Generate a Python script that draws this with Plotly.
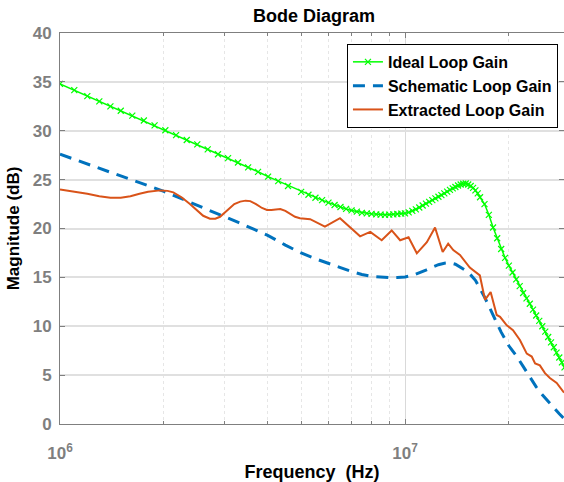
import plotly.graph_objects as go

# ---------------- data ----------------
ideal_f = [1.00e6, 1.10e6, 1.20e6, 1.30e6, 1.40e6, 1.50e6, 1.62e6, 1.75e6, 1.88e6, 2.02e6,
           2.17e6, 2.33e6, 2.50e6, 2.68e6, 2.87e6, 3.07e6, 3.28e6, 3.51e6, 3.75e6, 4.01e6,
           4.29e6, 4.58e6, 5.00e6, 5.25e6, 5.50e6, 5.75e6, 6.00e6, 6.25e6, 6.50e6, 6.75e6,
           7.00e6, 7.25e6, 7.50e6, 7.75e6, 8.00e6, 8.25e6, 8.50e6, 8.75e6, 9.00e6, 9.25e6,
           9.50e6, 9.75e6, 1.00e7, 1.025e7, 1.05e7, 1.075e7, 1.10e7, 1.125e7, 1.15e7, 1.175e7,
           1.20e7, 1.225e7, 1.25e7, 1.275e7, 1.30e7, 1.325e7, 1.35e7, 1.375e7, 1.40e7, 1.425e7,
           1.45e7, 1.475e7, 1.50e7, 1.525e7, 1.55e7, 1.575e7, 1.60e7, 1.625e7, 1.65e7, 1.70e7,
           1.75e7, 1.80e7, 1.85e7, 1.90e7, 1.95e7, 2.00e7, 2.05e7, 2.10e7, 2.15e7, 2.20e7,
           2.25e7, 2.30e7, 2.35e7, 2.40e7, 2.45e7, 2.50e7, 2.55e7, 2.60e7, 2.65e7, 2.70e7,
           2.75e7, 2.80e7, 2.85e7, 2.90e7, 3.00e7]
ideal_db = [34.8, 34.15, 33.55, 33.0, 32.5, 32.05, 31.55, 31.05, 30.55, 30.05,
            29.55, 29.05, 28.6, 28.1, 27.6, 27.2, 26.75, 26.25, 25.8, 25.3,
            24.85, 24.35, 23.75, 23.45, 23.15, 22.9, 22.65, 22.4, 22.2, 22.0,
            21.85, 21.72, 21.6, 21.55, 21.5, 21.45, 21.42, 21.4, 21.42, 21.45,
            21.48, 21.52, 21.55, 21.65, 21.8, 21.95, 22.15, 22.35, 22.55, 22.72,
            22.9, 23.08, 23.25, 23.42, 23.6, 23.78, 23.95, 24.1, 24.25, 24.4,
            24.5, 24.58, 24.6, 24.5, 24.35, 24.15, 23.9, 23.6, 23.2, 22.5,
            21.4, 20.1, 19.0, 17.9, 17.0, 16.2, 15.5, 14.8, 14.1, 13.4,
            12.85, 12.3, 11.7, 11.1, 10.55, 10.0, 9.45, 8.9, 8.35, 7.85,
            7.3, 6.8, 6.3, 5.8, 4.8]

schem_f = [1.0e6, 1.2e6, 1.4e6, 1.6e6, 1.8e6, 2.0e6, 2.25e6, 2.5e6, 2.75e6, 3.0e6,
           3.3e6, 3.6e6, 4.0e6, 4.5e6, 5.0e6, 5.5e6, 6.0e6, 6.5e6, 7.0e6, 7.5e6,
           8.0e6, 8.5e6, 9.0e6, 9.5e6, 1.0e7, 1.05e7, 1.1e7, 1.15e7, 1.2e7, 1.25e7,
           1.3e7, 1.35e7, 1.4e7, 1.45e7, 1.5e7, 1.55e7, 1.6e7, 1.7e7, 1.8e7, 1.9e7,
           2.0e7, 2.1e7, 2.2e7, 2.3e7, 2.4e7, 2.5e7, 2.6e7, 2.7e7, 2.8e7, 2.9e7, 3.0e7]
schem_db = [27.6, 26.6, 25.7, 25.0, 24.35, 23.8, 23.05, 22.35, 21.75, 21.2,
            20.6, 20.0, 19.3, 18.3, 17.5, 16.9, 16.4, 16.0, 15.6, 15.3,
            15.1, 15.0, 14.97, 14.98, 15.05, 15.2, 15.45, 15.75, 16.05, 16.3,
            16.45, 16.5, 16.35, 16.05, 15.7, 15.25, 14.7, 13.0, 11.2, 9.4,
            8.0, 7.0, 5.9, 4.8, 3.8, 3.0, 2.3, 1.6, 1.05, 0.5, 0.0]

extr_f = [1.0e6, 1.1e6, 1.2e6, 1.3e6, 1.4e6, 1.5e6, 1.6e6, 1.7e6, 1.8e6, 1.95e6,
          2.05e6, 2.13e6, 2.25e6, 2.38e6, 2.5e6, 2.6e6, 2.72e6, 2.82e6, 2.91e6, 3.0e6,
          3.1e6, 3.2e6, 3.33e6, 3.45e6, 3.56e6, 3.7e6, 3.85e6, 3.98e6, 4.1e6, 4.2e6,
          4.35e6, 4.5e6, 4.64e6, 4.8e6, 4.96e6, 5.31e6, 5.86e6, 6.48e6, 7.41e6,
          7.93e6, 8.56e6, 9.15e6, 9.68e6, 1.024e7, 1.082e7, 1.157e7, 1.222e7, 1.286e7, 1.334e7,
          1.38e7, 1.443e7, 1.541e7, 1.648e7, 1.706e7, 1.771e7, 1.844e7, 1.886e7, 1.972e7, 2.056e7,
          2.153e7, 2.254e7, 2.33e7, 2.383e7, 2.46e7, 2.545e7, 2.63e7, 2.752e7, 2.877e7, 3.0e7]
extr_db = [24.0, 23.8, 23.55, 23.3, 23.15, 23.15, 23.3, 23.55, 23.75, 23.9,
           23.85, 23.7, 23.2, 22.5, 21.8, 21.3, 21.0, 21.0, 21.2, 21.6,
           22.1, 22.5, 22.75, 22.85, 22.8, 22.5, 22.1, 21.9, 21.9, 21.95,
           22.0, 21.8, 21.5, 21.2, 21.05, 20.95, 20.2, 21.05, 19.2,
           19.65, 18.8, 19.8, 18.8, 19.1, 17.46, 18.6, 20.1, 17.6, 18.45,
           17.8, 17.3, 16.0, 15.2, 12.7, 13.5, 11.15, 10.97, 10.1, 9.6,
           8.6, 7.2, 6.9, 6.2, 6.0, 5.2, 4.7, 4.2, 3.3, 3.0]

y_ticks = [0, 5, 10, 15, 20, 25, 30, 35, 40]
x_ticks = [1e6, 1e7]
x_ticktext = ["10<sup>6</sup>", "10<sup>7</sup>"]
minor_x = [2e6, 3e6, 4e6, 5e6, 6e6, 7e6, 8e6, 9e6, 2e7, 3e7]

FONT = "Liberation Sans, Arial, sans-serif"
GRAY = "#7f7f7f"

fig = go.Figure()
fig.add_trace(go.Scatter(
    x=ideal_f, y=ideal_db, name="Ideal Loop Gain", mode="lines+markers",
    line=dict(color="#00ff00", width=1.5),
    marker=dict(symbol="x-thin-open", size=6, color="#00ff00",
                line=dict(color="#00ff00", width=1.2))))
fig.add_trace(go.Scatter(
    x=schem_f, y=schem_db, name="Schematic Loop Gain", mode="lines",
    line=dict(color="#0072bd", width=3, dash="12px,8px")))
fig.add_trace(go.Scatter(
    x=extr_f, y=extr_db, name="Extracted Loop Gain", mode="lines",
    line=dict(color="#d95319", width=2)))

fig.update_layout(
    width=564, height=482,
    margin=dict(l=60, r=0, t=33, b=58),
    paper_bgcolor="white", plot_bgcolor="white",
    font=dict(family=FONT, color="black"),
    title=dict(text="Bode Diagram", x=314 / 564, xanchor="center", y=1 - 16 / 482,
               yanchor="middle", font=dict(size=18, weight="bold", color="black")),
    showlegend=True,
    legend=dict(x=0.988, xanchor="right", y=0.972, yanchor="top",
                bgcolor="white", bordercolor="black", borderwidth=1,
                font=dict(size=16, weight="bold", color="black"),
                itemwidth=30, tracegroupgap=0),
)

x_end = 6 + 504 / 345.0
fig.update_xaxes(
    type="log", range=[6, x_end],
    tickvals=x_ticks, ticktext=x_ticktext,
    tickfont=dict(size=17, weight="bold", color=GRAY),
    ticks="inside", ticklen=5, tickcolor=GRAY,
    showline=True, linecolor=GRAY, linewidth=1, mirror="allticks",
    showgrid=True, gridcolor="#d9d9d9", gridwidth=1,
    minor=dict(tickvals=minor_x, showgrid=True, gridcolor="#e6e6e6", griddash="dot",
               ticks="inside", ticklen=3, tickcolor=GRAY),
    ticklabelstandoff=14,
    title=dict(text="Frequency\u00a0 (Hz)", font=dict(size=18, weight="bold", color="black"),
               standoff=3),
    zeroline=False,
)
fig.update_yaxes(
    range=[0, 40], tickvals=y_ticks,
    tickfont=dict(size=17, weight="bold", color=GRAY),
    ticks="inside", ticklen=5, tickcolor=GRAY,
    showline=True, linecolor=GRAY, linewidth=1, mirror="allticks",
    showgrid=True, gridcolor="#e0e0e0", gridwidth=1.5,
    title=dict(text="Magnitude (dB)", font=dict(size=17, weight="bold", color="black"),
               standoff=8),
    zeroline=False, ticklabelstandoff=4,
)

fig.write_html("out.html")
